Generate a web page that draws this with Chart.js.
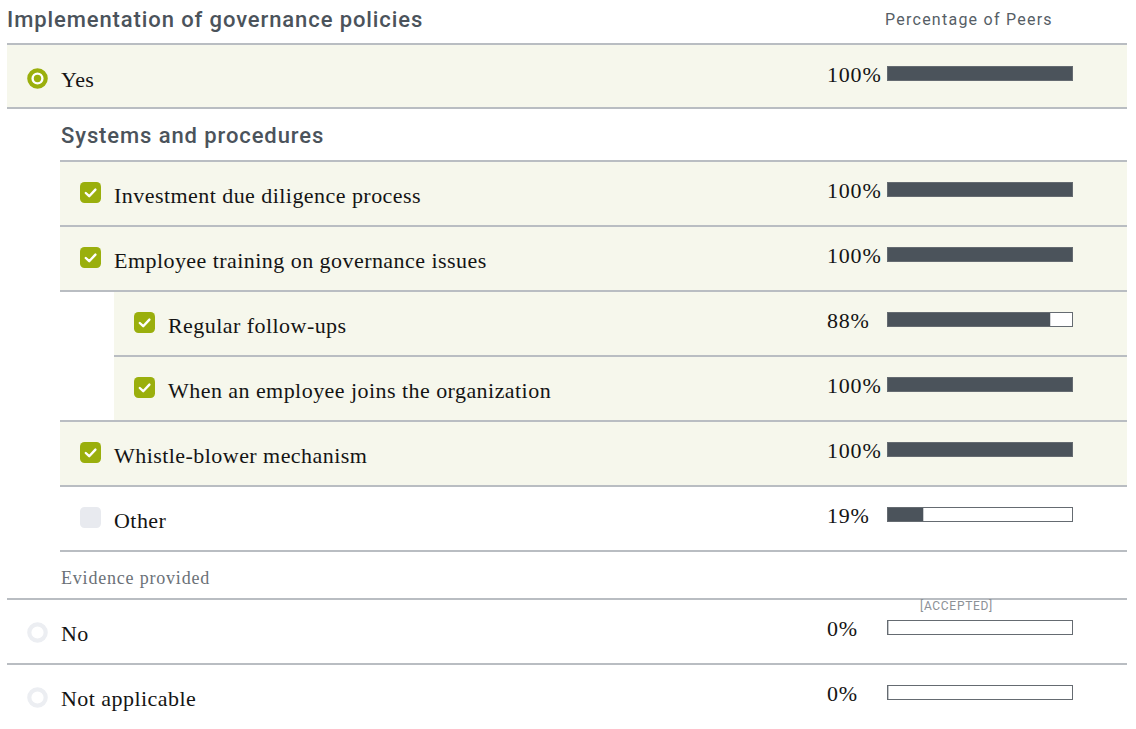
<!DOCTYPE html>
<html>
<head>
<meta charset="utf-8">
<title>Implementation of governance policies</title>
<script src="https://cdn.jsdelivr.net/npm/chart.js@4/dist/chart.umd.min.js"></script>
<style>
  html, body { margin: 0; padding: 0; background: #fff; }
  body { width: 1136px; height: 729px; position: relative; overflow: hidden; }
  .abs { position: absolute; white-space: nowrap; line-height: 1; }
  .sans { font-family: Roboto, "Noto Sans", sans-serif; }
  .head { font-weight: 500; letter-spacing: 0.9px; }
  .serif { font-family: "Liberation Serif", serif; letter-spacing: 0.45px; }
  .line { position: absolute; height: 2px; background: #b9bdc2; }
  .bg { position: absolute; background: #f6f7ec; }
  .bar { position: absolute; width: 184px; height: 13px; border: 1px solid #656b71; background: #fff; }
  .bar canvas { display: block; }
  .icon { position: absolute; }
</style>
</head>
<body>
<script>
// ----- Data -----
var optionLabels = [
  'Yes',
  'Investment due diligence process',
  'Employee training on governance issues',
  'Regular follow-ups',
  'When an employee joins the organization',
  'Whistle-blower mechanism',
  'Other',
  'No',
  'Not applicable'
];
var peerPercent = [100, 100, 100, 88, 100, 100, 19, 0, 0];
var percentLabels = ['100%', '100%', '100%', '88%', '100%', '100%', '19%', '0%', '0%'];

// ----- Layout (kept apart from the data) -----
var rowTops = [45, 161, 226, 291, 356, 421, 486, 599, 664];
var rowLevel = [0, 1, 1, 2, 2, 1, 1, 0, 0];
var rowIcon = ['radioOn', 'check', 'check', 'check', 'check', 'check', 'checkOff', 'radioOff', 'radioOff'];
var rowShaded = [true, true, true, true, true, true, false, false, false];
var levelIconX = [27, 80, 134];
var levelTextX = [61, 114, 168];
var levelBgX = [7, 60, 114];
var rightEdge = 1127;

var GREEN = '#9aaf0d';
var DARK = '#4b535b';

function add(html) {
  document.body.insertAdjacentHTML('beforeend', html);
}

// place a text so that its baseline sits at y
function text(str, x, baseline, size, cls, color, extra) {
  var top = baseline - 0.84 * size;
  add('<div class="abs ' + cls + '" style="left:' + x + 'px;top:' + top + 'px;font-size:' + size +
      'px;color:' + color + ';' + (extra || '') + '">' + str + '</div>');
}

function line(x, y) {
  add('<div class="line" style="left:' + x + 'px;top:' + y + 'px;width:' + (rightEdge - x) + 'px"></div>');
}

function icon(kind, x, top) {
  var svg = '';
  if (kind === 'radioOn') {
    svg = '<svg width="21" height="21"><circle cx="10.5" cy="10.5" r="8.2" fill="#fff" stroke="' + GREEN +
          '" stroke-width="4.2"/><circle cx="10.5" cy="10.5" r="3.7" fill="' + GREEN + '"/></svg>';
  } else if (kind === 'radioOff') {
    svg = '<svg width="21" height="21"><circle cx="10.5" cy="10.5" r="8.2" fill="#fff" stroke="#eceef2" stroke-width="4.2"/></svg>';
  } else if (kind === 'check') {
    svg = '<svg width="21" height="21"><rect x="0" y="0" width="21" height="21" rx="4.5" fill="' + GREEN +
          '"/><polyline points="5.8,11 9.2,14.2 15.4,7.6" fill="none" stroke="#fff" stroke-width="2.4" stroke-linecap="round" stroke-linejoin="round"/></svg>';
  } else {
    svg = '<svg width="21" height="21"><rect x="0" y="0" width="21" height="21" rx="4.5" fill="#e8eaef"/></svg>';
  }
  add('<div class="icon" style="left:' + x + 'px;top:' + top + 'px;width:21px;height:21px">' + svg + '</div>');
}

function drawBar(canvas, value, label) {
  new Chart(canvas.getContext('2d'), {
    type: 'bar',
    data: {
      labels: [label],
      datasets: [{
        data: [value],
        backgroundColor: DARK,
        borderWidth: 0,
        barPercentage: 1,
        categoryPercentage: 1
      }]
    },
    options: {
      indexAxis: 'y',
      responsive: false,
      animation: false,
      events: [],
      layout: { padding: 0 },
      plugins: { legend: { display: false }, tooltip: { enabled: false } },
      scales: {
        x: { display: false, min: 0, max: 100 },
        y: { display: false }
      }
    }
  });
}

// ----- Headings -----
text('Implementation of governance policies', 7, 27, 22, 'sans head', DARK);
text('Percentage of Peers', 885, 25, 16, 'sans', '#565e66', 'letter-spacing:1.25px');
line(7, 43);

// ----- Rows -----
for (var i = 0; i < optionLabels.length; i++) {
  var t = rowTops[i];
  var lvl = rowLevel[i];
  if (rowShaded[i]) {
    add('<div class="bg" style="left:' + levelBgX[lvl] + 'px;top:' + t + 'px;width:' +
        (rightEdge - levelBgX[lvl]) + 'px;height:' + (i === 0 ? 62 : 64) + 'px"></div>');
  }
  var isRadio = rowIcon[i].indexOf('radio') === 0;
  icon(rowIcon[i], levelIconX[lvl], t + (isRadio ? 23 : 21));
  text(optionLabels[i], levelTextX[lvl], t + 42, 22, 'serif', '#141414');
  text(percentLabels[i], 827, t + 37, 22, 'serif', '#141414', 'letter-spacing:0.8px');

  add('<div class="bar" style="left:887px;top:' + (t + 21) + 'px"><canvas id="bar' + i +
      '" width="184" height="13"></canvas></div>');
  drawBar(document.getElementById('bar' + i), peerPercent[i], optionLabels[i]);
}

// sub heading and row separators
text('Systems and procedures', 61, 143, 22, 'sans head', DARK);
line(7, 107);
line(60, 160);
line(60, 225);
line(60, 290);
line(114, 355);
line(60, 420);
line(60, 485);
line(60, 550);
text('Evidence provided', 61, 584, 18, 'serif', '#6b7177', 'letter-spacing:0.8px');
line(7, 598);
text('[ACCEPTED]', 920, 610, 12, 'sans', '#8c9196', 'letter-spacing:0.7px');
line(7, 663);
</script>
</body>
</html>
